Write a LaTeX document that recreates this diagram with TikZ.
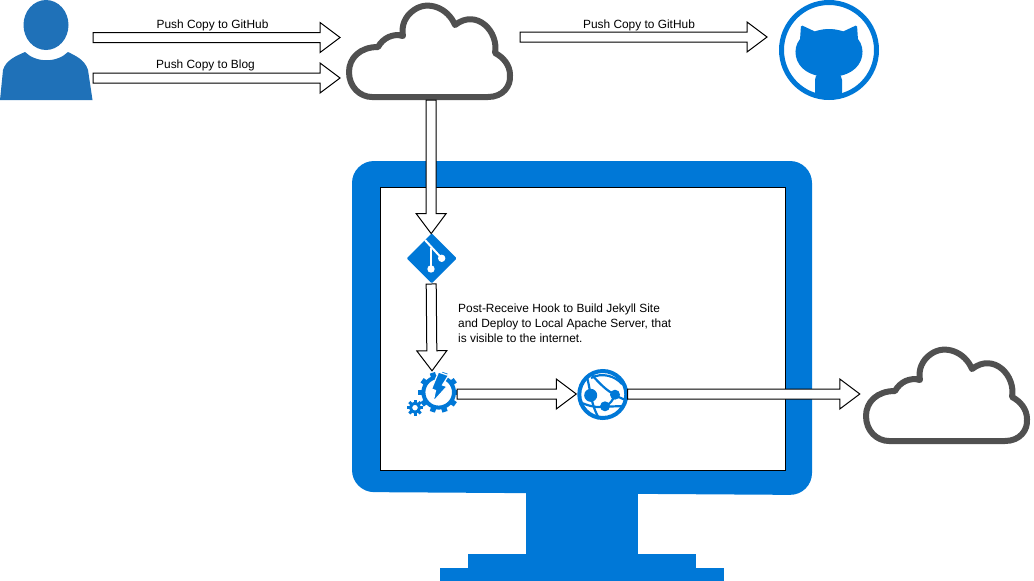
\documentclass[tikz,border=0pt]{standalone}
\usepackage{fontspec}
\setmainfont{Liberation Sans}
\usetikzlibrary{calc}

\definecolor{azure}{HTML}{0078D7}
\definecolor{person}{HTML}{1F71B8}
\definecolor{cloudgrey}{HTML}{505050}

\tikzset{
    iconbox/.style={inner sep=0pt},
    caption/.style={font=\fontsize{11.9}{15}\selectfont},
    blockarrow/.style={
        draw=black,fill=white,line width=1pt,line join=miter,
        to path={
            ($(\tikztostart)!5pt!90:(\tikztotarget)$)
            -- ($(\tikztotarget)!20pt!(\tikztostart)!5pt!90:(\tikztotarget)$)
            -- ($(\tikztotarget)!20pt!(\tikztostart)!15pt!90:(\tikztotarget)$)
            -- (\tikztotarget)
            -- ($(\tikztotarget)!20pt!(\tikztostart)!15pt!-90:(\tikztotarget)$)
            -- ($(\tikztotarget)!20pt!(\tikztostart)!5pt!-90:(\tikztotarget)$)
            -- ($(\tikztostart)!5pt!-90:(\tikztotarget)$)
            -- cycle
        }},
    pics/cloudicon/.style={code={
        \draw[cloudgrey,line width=6pt,line join=round]
            (372,97) -- (488,97)
            .. controls (503,97) and (511,86) .. (510,75)
            .. controls (510,65) and (503,57) .. (495,53)
            .. controls (499,32) and (477,8) .. (455,25)
            .. controls (448,8) and (428,0) .. (414,10)
            .. controls (405,16) and (401,26) .. (403,36)
            .. controls (393,33) and (383,38) .. (378,47)
            .. controls (360,47) and (349,58) .. (349,72)
            .. controls (349,87) and (360,97) .. (372,97) -- cycle;
    }}
}

\begin{document}
\begin{tikzpicture}[x=1pt,y=-1pt]
\useasboundingbox (0,0) rectangle (1034,581);

% Monitor
\fill[azure,rounded corners=22pt] (352,161) -- (812,161) -- (812,495) -- (352,492) -- cycle;
\fill[azure] (526,480) rectangle (638,554);
\fill[azure] (468,554) rectangle (696,568.5);
\fill[azure] (440,568) rectangle (724,581);
\draw[black,line width=1pt,fill=white] (380,187) rectangle (785,470);

% Person
\fill[person] (46,25) ellipse (22.5 and 25);
\fill[person] (25,52) .. controls (36,63) and (57,63) .. (68,52)
    .. controls (76,56) and (85,60) .. (88,70)
    -- (92.5,100) -- (0,100) -- (3,70)
    .. controls (6,60) and (16,56) .. (25,52) -- cycle;
\node[iconbox,minimum width=93pt,minimum height=100pt] (person) at (46.5,50) {};

% Clouds
\pic {cloudicon};
\pic at (517,344) {cloudicon};
\node[iconbox,minimum width=164pt,minimum height=98pt] (cloudtop) at (431,51) {};
\node[iconbox,minimum width=170pt,minimum height=98pt] (cloudout) at (945,394) {};

% Github
\draw[azure,line width=5pt] (829,50) circle (47.5);
\begin{scope}
\clip (829,50) circle (49);
\fill[azure] (815,100) -- (815,80) .. controls (815,74) and (820,72) .. (828,72)
    .. controls (836,72) and (842,74) .. (842,80) -- (842,100) -- cycle;
\end{scope}
\fill[azure,rounded corners=1.5pt] (800,40) -- (801,25) -- (816,32)
    .. controls (824,28.5) and (834,28.5) .. (842,32)
    -- (857,25) -- (858,40);
\fill[azure] (800,39) .. controls (792,49) and (795,64) .. (806,71)
    .. controls (818,79) and (840,79) .. (852,71)
    .. controls (863,64) and (866,49) .. (858,39)
    -- (842,31) .. controls (834,28.5) and (824,28.5) .. (816,31) -- cycle;
\node[iconbox,minimum size=100pt] (github) at (829,50) {};

% Git
\fill[azure,rounded corners=1pt] (431.7,233.3) -- (456.7,258.3) -- (431.7,283.3) -- (406.7,258.3) -- cycle;
\draw[white,line width=2pt] (425,240) -- (441.7,258.3);
\draw[white,line width=2pt] (431,248) -- (431,269);
\fill[white] (441.7,258.3) circle (3.7);
\fill[white] (431,269) circle (3.7);
\node[iconbox,minimum size=50pt] (gitlogo) at (431.2,258.8) {};

% Function app
\foreach \a in {0,36,...,324}
{
    \fill[azure] (438.7,392.3) ++(\a:16) ++(\a+90:2.7) -- ++(\a:4.5) -- ++(\a-90:5.4) -- ++(\a+180:4.5) -- cycle;
}
\draw[azure,line width=4pt] (438.7,392.3) circle (15.3);
\fill[azure,draw=white,line width=1.2pt] (438.5,372) -- (448.5,375.5) -- (442.5,385) -- (447,386.5)
    -- (433,402) -- (435.5,390.5) -- (431.5,389) -- cycle;
\foreach \a in {0,45,...,315}
{
    \fill[azure] (415,407.7) ++(\a:5) ++(\a+90:1.5) -- ++(\a:3) -- ++(\a-90:3) -- ++(\a+180:3) -- cycle;
}
\draw[azure,line width=3pt] (415,407.7) circle (4.5);
\node[iconbox,minimum width=50pt,minimum height=46pt] (funcapp) at (432,394) {};

% Web app
\draw[azure,line width=4pt] (602.8,394.5) circle (23.5);
\begin{scope}
\clip (602.8,394.5) circle (23.5);
\draw[azure,line width=2.2pt] (587,377) .. controls (589,385) and (590,392) .. (591,395)
    .. controls (592,403) and (595,412) .. (600,420);
\draw[azure,line width=2.2pt] (592,375) .. controls (600,384) and (606,390) .. (615,395)
    .. controls (620,398) and (625,400) .. (630,401);
\draw[azure,line width=2.2pt] (580,402) .. controls (588,406) and (597,408) .. (605,406.7)
    .. controls (610,404) and (613,400) .. (615,395);
\draw[azure,line width=2.2pt] (605,406.7) -- (625,406);
\draw[azure,line width=2.2pt] (591,378) .. controls (602,372) and (615,376) .. (622,384);
\end{scope}
\fill[azure] (590.7,395.3) circle (6.5);
\fill[azure] (615,394.7) circle (5);
\fill[azure] (605,406.3) circle (5);
\node[iconbox,minimum size=51pt] (webapp) at (602,394) {};

% Free ends of the arrows
\coordinate (pushhubA) at (93,37.5);
\coordinate (pushhubB) at (340,37.5);
\coordinate (pushblogA) at (93,78);
\coordinate (pushblogB) at (340,78);
\coordinate (relayA) at (520,37);
\coordinate (relayB) at (767,37);

\draw[blockarrow] (pushhubA) to (pushhubB);
\draw[blockarrow] (pushblogA) to (pushblogB);
\draw[blockarrow] (relayA) to (relayB);
\draw[blockarrow] (cloudtop.south) to (gitlogo.north);
\draw[blockarrow] (gitlogo.south) to (funcapp.north);
\draw[blockarrow] (funcapp.east) to (webapp.west);
\draw[blockarrow] (webapp.east) to (cloudout.west);

\node[caption] (labelhub) at (212.5,25.5) {Push Copy to GitHub};
\node[caption] (labelblog) at (205.5,65.5) {Push Copy to Blog};
\node[caption] (labelrelay) at (639,25.5) {Push Copy to GitHub};
\node[caption,anchor=north west,inner sep=0pt,align=left] (labelhook) at (458,304)
{Post-Receive Hook to Build Jekyll Site\\
and Deploy to Local Apache Server, that\\
is visible to the internet.};

\end{tikzpicture}
\end{document}
